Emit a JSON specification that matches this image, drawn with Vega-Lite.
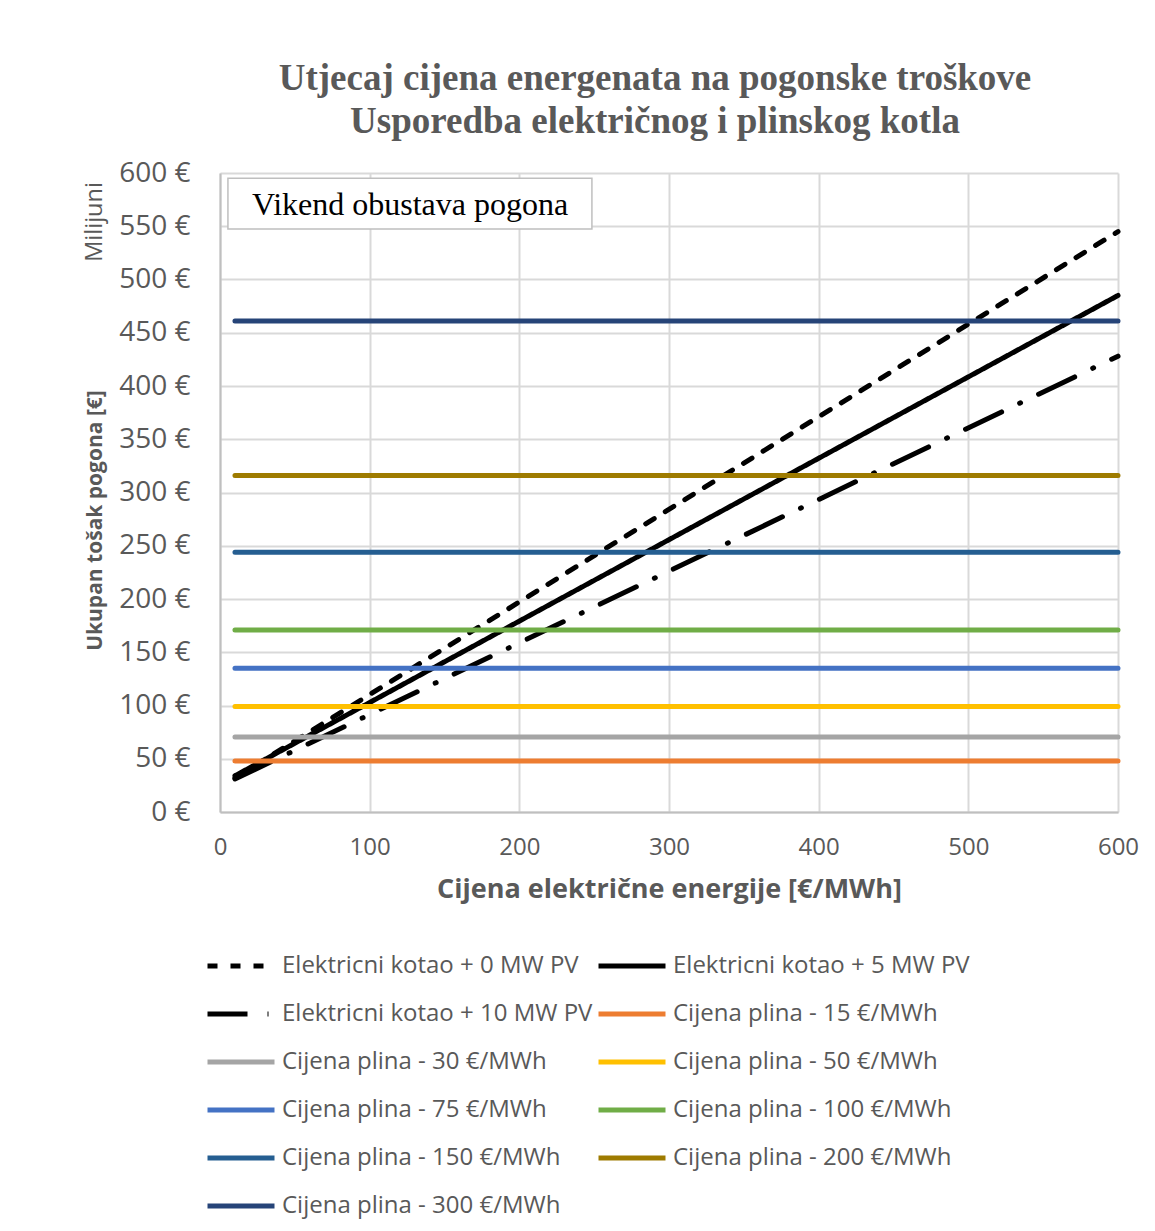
{
  "$schema": "https://vega.github.io/schema/vega-lite/v6.json",
  "width": 898,
  "height": 639,
  "autosize": {"type": "none"},
  "padding": {"left": 220, "top": 173, "right": 37, "bottom": 419},
  "background": "white",
  "title": {
    "text": ["Utjecaj cijena energenata na pogonske troškove", "Usporedba električnog i plinskog kotla"],
    "font": "Liberation Serif",
    "fontSize": 37,
    "fontWeight": "bold",
    "color": "#595959",
    "lineHeight": 43,
    "anchor": "middle",
    "dx": -14,
    "offset": 18
  },
  "config": {
    "view": {"stroke": null},
    "axis": {
      "gridColor": "#d9d9d9",
      "gridWidth": 2,
      "domainColor": "#bfbfbf",
      "domainWidth": 2,
      "ticks": false,
      "labelFlush": false,
      "labelColor": "#595959",
      "labelFont": "Open Sans",
      "titleColor": "#595959",
      "titleFont": "Open Sans",
      "titleFontWeight": "bold"
    },
    "legend": {
      "orient": "none",
      "direction": "horizontal",
      "legendX": -15,
      "legendY": 757,
      "columns": 2,
      "symbolType": "stroke",
      "symbolSize": 4489,
      "labelFont": "Open Sans",
      "labelFontSize": 24,
      "labelColor": "#595959",
      "labelOffset": 5,
      "labelLimit": 400,
      "columnPadding": -5,
      "rowPadding": 0,
      "title": null
    }
  },
  "datasets": {
    "lines": [
      {"series": "Elektricni kotao + 0 MW PV", "x": 10, "y": 32},
      {"series": "Elektricni kotao + 0 MW PV", "x": 600, "y": 545},
      {"series": "Elektricni kotao + 5 MW PV", "x": 10, "y": 34},
      {"series": "Elektricni kotao + 5 MW PV", "x": 600, "y": 485},
      {"series": "Elektricni kotao + 10 MW PV", "x": 10, "y": 31},
      {"series": "Elektricni kotao + 10 MW PV", "x": 600, "y": 428},
      {"series": "Cijena plina - 15 €/MWh", "x": 10, "y": 48},
      {"series": "Cijena plina - 15 €/MWh", "x": 600, "y": 48},
      {"series": "Cijena plina - 30 €/MWh", "x": 10, "y": 70.5},
      {"series": "Cijena plina - 30 €/MWh", "x": 600, "y": 70.5},
      {"series": "Cijena plina - 50 €/MWh", "x": 10, "y": 99},
      {"series": "Cijena plina - 50 €/MWh", "x": 600, "y": 99},
      {"series": "Cijena plina - 75 €/MWh", "x": 10, "y": 135},
      {"series": "Cijena plina - 75 €/MWh", "x": 600, "y": 135},
      {"series": "Cijena plina - 100 €/MWh", "x": 10, "y": 171},
      {"series": "Cijena plina - 100 €/MWh", "x": 600, "y": 171},
      {"series": "Cijena plina - 150 €/MWh", "x": 10, "y": 244},
      {"series": "Cijena plina - 150 €/MWh", "x": 600, "y": 244},
      {"series": "Cijena plina - 200  €/MWh", "x": 10, "y": 316},
      {"series": "Cijena plina - 200  €/MWh", "x": 600, "y": 316},
      {"series": "Cijena plina - 300  €/MWh", "x": 10, "y": 461},
      {"series": "Cijena plina - 300  €/MWh", "x": 600, "y": 461}
    ]
  },
  "layer": [
    {
      "data": {"name": "lines"},
      "mark": {"type": "line", "strokeCap": "round"},
      "encoding": {
        "x": {
          "field": "x",
          "type": "quantitative",
          "scale": {"domain": [0, 600]},
          "axis": {
            "values": [0, 100, 200, 300, 400, 500, 600],
            "labelFontSize": 24,
            "labelPadding": 23,
            "title": "Cijena električne energije [€/MWh]",
            "titleFontSize": 27,
            "titlePadding": 17
          }
        },
        "y": {
          "field": "y",
          "type": "quantitative",
          "scale": {"domain": [0, 600]},
          "axis": {
            "values": [0, 50, 100, 150, 200, 250, 300, 350, 400, 450, 500, 550, 600],
            "labelExpr": "datum.value + ' €'",
            "labelFontSize": 28,
            "labelPadding": 30,
            "title": "Ukupan tošak pogona [€]",
            "titleFontSize": 21,
            "titleX": -125,
            "titleY": 347,
            "titleBaseline": "middle",
            "titleAngle": 270
          }
        },
        "color": {
          "field": "series",
          "type": "nominal",
          "scale": {
            "domain": ["Elektricni kotao + 0 MW PV", "Elektricni kotao + 5 MW PV", "Elektricni kotao + 10 MW PV", "Cijena plina - 15 €/MWh", "Cijena plina - 30 €/MWh", "Cijena plina - 50 €/MWh", "Cijena plina - 75 €/MWh", "Cijena plina - 100 €/MWh", "Cijena plina - 150 €/MWh", "Cijena plina - 200  €/MWh", "Cijena plina - 300  €/MWh"],
            "range": ["#000000", "#000000", "#000000", "#ED7D31", "#A5A5A5", "#FFC000", "#4472C4", "#70AD47", "#255E91", "#9E7B00", "#264478"]
          }
        },
        "strokeDash": {
          "field": "series",
          "type": "nominal",
          "scale": {
            "domain": ["Elektricni kotao + 0 MW PV", "Elektricni kotao + 5 MW PV", "Elektricni kotao + 10 MW PV", "Cijena plina - 15 €/MWh", "Cijena plina - 30 €/MWh", "Cijena plina - 50 €/MWh", "Cijena plina - 75 €/MWh", "Cijena plina - 100 €/MWh", "Cijena plina - 150 €/MWh", "Cijena plina - 200  €/MWh", "Cijena plina - 300  €/MWh"],
            "range": [[10, 13], [1, 0], [40, 20, 1, 20], [1, 0], [1, 0], [1, 0], [1, 0], [1, 0], [1, 0], [1, 0], [1, 0]]
          }
        },
        "strokeWidth": {
          "field": "series",
          "type": "nominal",
          "scale": {
            "domain": ["Elektricni kotao + 0 MW PV", "Elektricni kotao + 5 MW PV", "Elektricni kotao + 10 MW PV", "Cijena plina - 15 €/MWh", "Cijena plina - 30 €/MWh", "Cijena plina - 50 €/MWh", "Cijena plina - 75 €/MWh", "Cijena plina - 100 €/MWh", "Cijena plina - 150 €/MWh", "Cijena plina - 200  €/MWh", "Cijena plina - 300  €/MWh"],
            "range": [5, 5, 5, 3, 3, 3, 3, 3, 3, 3, 3]
          }
        }
      }
    },
    {
      "data": {"values": [{"label": "Milijuni"}]},
      "mark": {"type": "text", "angle": 270, "font": "Open Sans", "fontSize": 23.5, "color": "#595959", "align": "center", "baseline": "middle"},
      "encoding": {
        "x": {"datum": -83.5, "type": "quantitative"},
        "y": {"datum": 554, "type": "quantitative"},
        "text": {"field": "label"}
      }
    },
    {
      "data": {"values": [{"label": "Vikend obustava pogona"}]},
      "mark": {"type": "rect", "fill": "white", "stroke": "#bfbfbf", "strokeWidth": 1.5},
      "encoding": {
        "x": {"datum": 5.3, "type": "quantitative"},
        "x2": {"datum": 248.5},
        "y": {"datum": 547.4, "type": "quantitative"},
        "y2": {"datum": 595}
      }
    },
    {
      "data": {"values": [{"label": "Vikend obustava pogona"}]},
      "mark": {"type": "text", "font": "Liberation Serif", "fontSize": 32, "color": "#000000", "align": "center", "baseline": "middle"},
      "encoding": {
        "x": {"datum": 127, "type": "quantitative"},
        "y": {"datum": 570, "type": "quantitative"},
        "text": {"field": "label"}
      }
    }
  ]
}
